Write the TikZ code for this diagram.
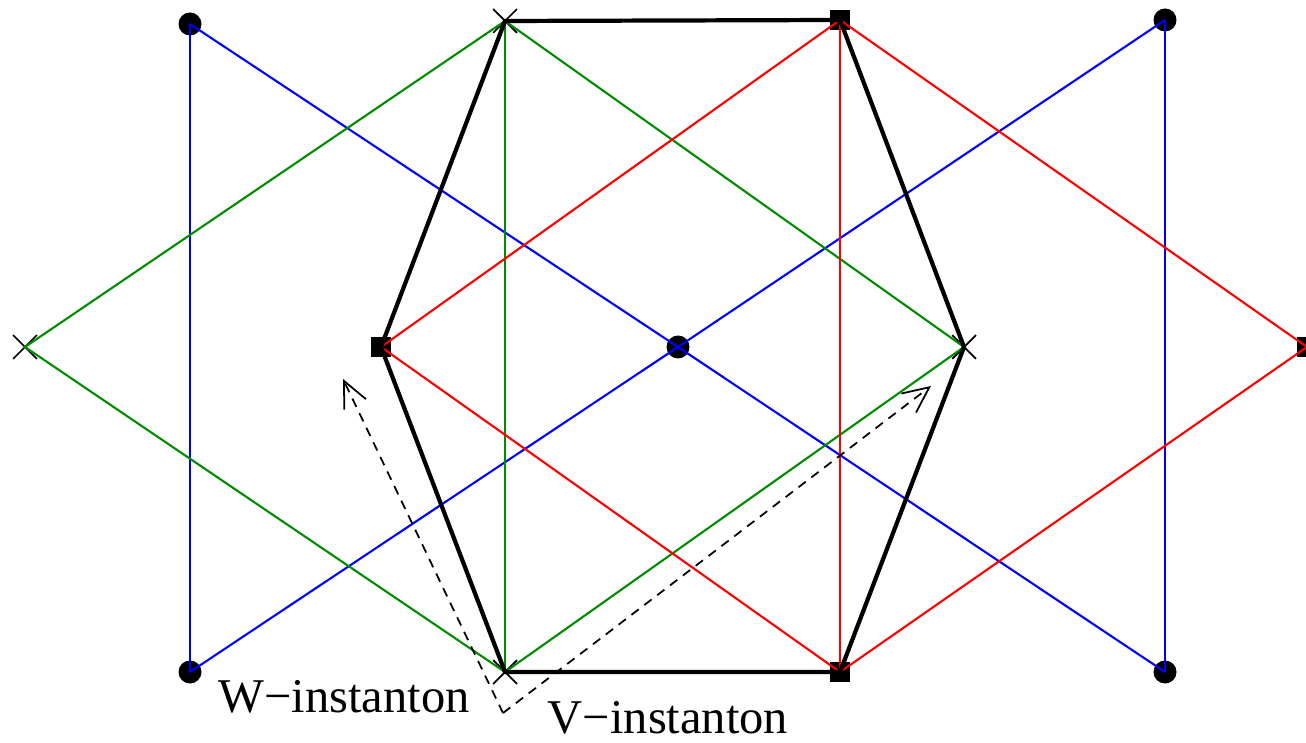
\documentclass[tikz,border=0pt]{standalone}
\usepackage{fontspec}
\setmainfont{Liberation Serif}
\usepackage{tikz}
\usetikzlibrary{shapes.misc, arrows.meta, positioning}

\begin{document}
\begin{tikzpicture}[
    dot/.style={circle, fill=black, inner sep=0pt, minimum size=0.23cm},
    sq/.style={rectangle, fill=black, inner sep=0pt, minimum size=0.2cm},
    crs/.style={cross out, draw=black, line width=0.5pt, inner sep=0pt, minimum size=0.22cm},
    wline/.style={blue, line width=0.6pt},
    gline/.style={green!55!black, line width=0.6pt},
    rline/.style={red, line width=0.6pt},
    hexedge/.style={black, line width=1.2pt, line join=miter},
    inst/.style={-{Straight Barb[length=2.6mm, width=2.4mm]}, dash pattern=on 2.6pt off 2pt, line width=0.5pt},
    lbl/.style={font=\fontsize{13.8}{16}\selectfont, inner sep=0pt}
]
\useasboundingbox (0,0) rectangle (13.06,7.42);

% ------- markers -------
% circles
\node[dot] (cTL) at (1.90, 7.18) {};
\node[dot] (cTR) at (11.65, 7.22) {};
\node[dot] (cBL) at (1.90, 0.70) {};
\node[dot] (cBR) at (11.65, 0.70) {};
\node[dot] (cM)  at (6.78, 3.95) {};
% crosses
\node[crs] (xT) at (5.05, 7.21) {};
\node[crs] (xL) at (0.25, 3.95) {};
\node[crs] (xR) at (9.64, 3.95) {};
\node[crs] (xB) at (5.05, 0.70) {};
% squares
\node[sq] (sT) at (8.40, 7.22) {};
\node[sq] (sL) at (3.81, 3.95) {};
\node[sq] (sR) at (13.07, 3.95) {};
\node[sq] (sB) at (8.40, 0.70) {};

% ------- blue (circles) -------
\draw[wline] (cTL.center) -- (cBL.center);
\draw[wline] (cTR.center) -- (cBR.center);
\draw[wline] (cTL.center) -- (cM.center) -- (cBR.center);
\draw[wline] (cBL.center) -- (cM.center) -- (cTR.center);

% ------- green (crosses) -------
\draw[gline] (xT.center) -- (xL.center) -- (xB.center);
\draw[gline] (xT.center) -- (xR.center) -- (xB.center);
\draw[gline] (xT.center) -- (xB.center);

% ------- red (squares) -------
\draw[rline] (sT.center) -- (sL.center) -- (sB.center);
\draw[rline] (sT.center) -- (sR.center) -- (sB.center);
\draw[rline] (sT.center) -- (sB.center);

% ------- hexagon -------
\draw[hexedge] (xT.center) -- (sT.center) -- (xR.center) -- (sB.center)
    -- (xB.center) -- (sL.center) -- cycle;

% ------- instanton directions -------
\coordinate (base) at (5.03, 0.29);
\coordinate (wtip) at (3.43, 3.63);
\coordinate (vtip) at (9.31, 3.56);
\draw[inst] (base) -- (wtip);
\draw[inst] (base) -- (vtip);

\node[lbl] (wlab) at (3.44, 0.45) {W−instanton};
\node[lbl] (vlab) at (6.68, 0.24) {V−instanton};
\end{tikzpicture}
\end{document}
